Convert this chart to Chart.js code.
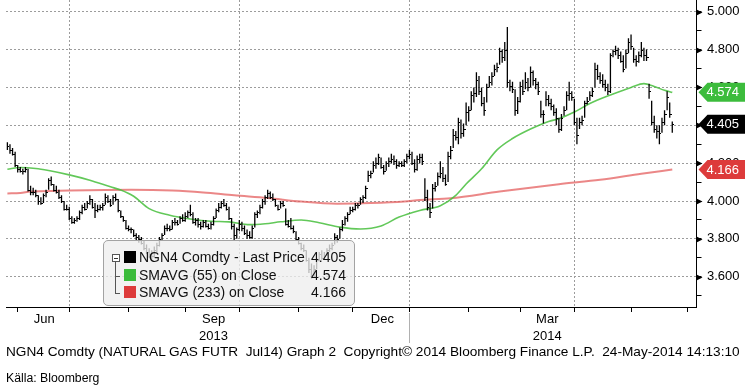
<!DOCTYPE html>
<html>
<head>
<meta charset="utf-8">
<script src="https://cdn.jsdelivr.net/npm/chart.js@4.4.1/dist/chart.umd.min.js"></script>
<style>
  html, body { margin: 0; padding: 0; background: #fff; }
  #wrap { position: relative; width: 748px; height: 392px; overflow: hidden;
          font-family: 'Liberation Sans', Arial, sans-serif; color: #000; }
  #plot { position: absolute; left: 0; top: 0; width: 748px; height: 392px; }
  #legend { position: absolute; left: 103px; top: 240px; width: 252px; height: 66px;
            box-sizing: border-box; border: 1px solid #a3a3a3; border-radius: 5px;
            background: rgba(238,238,238,0.78); font-size: 14px; color: #111; }
  #legend .row { position: absolute; left: 0; right: 0; height: 17px; line-height: 17px; }
  #legend .sw { position: absolute; left: 20px; top: 2px; width: 12px; height: 12px; }
  #legend .name { position: absolute; left: 35px; white-space: pre; }
  #legend .val { position: absolute; right: 8px; }
  #legend .tb { position: absolute; left: 8px; top: 13px; width: 6px; height: 6px;
                border: 1px solid #555; background: #fff; }
  #legend .tb:after { content: ''; position: absolute; left: 1px; top: 3px; width: 4px; height: 1px; background: #333; }
  #legend .vl { position: absolute; left: 11px; top: 21px; width: 1px; height: 31px; background: #555; }
  #legend .hl { position: absolute; left: 11px; width: 5px; height: 1px; background: #555; }
  .txt { position: absolute; left: 6px; white-space: pre; transform-origin: 0 0; }
</style>
</head>
<body>
<div id="wrap">
  <div id="plot"><canvas id="chart"></canvas></div>
  <div id="legend">
    <div class="tb"></div><div class="vl"></div>
    <div class="hl" style="top:35px"></div><div class="hl" style="top:52px"></div>
    <div class="row" style="top:8px"><span class="sw" style="background:#000"></span><span class="name">NGN4 Comdty - Last Price</span><span class="val" id="v0"></span></div>
    <div class="row" style="top:26px"><span class="sw" style="background:#3cbc3c"></span><span class="name">SMAVG (55) on Close</span><span class="val" id="v1"></span></div>
    <div class="row" style="top:43px"><span class="sw" style="background:#dd3b3b"></span><span class="name">SMAVG (233) on Close</span><span class="val" id="v2"></span></div>
  </div>
  <div class="txt" id="foot" style="top:344px;font-size:13px">NGN4 Comdty (NATURAL GAS FUTR  Jul14) Graph 2  Copyright© 2014 Bloomberg Finance L.P.  24-May-2014 14:13:10</div>
  <div class="txt" id="src" style="top:371px;font-size:12px">Källa: Bloomberg</div>
</div>
<script>
const FONT = "'Liberation Sans', Arial, sans-serif";

// x = trading day index, 0 = 3 Jun 2013; first bar is 28 May 2013
const FIRST_BAR = -4;

const high = [
  4.31,4.30,4.28,4.26,4.19,4.18,4.17,4.18,4.17,4.08,
  4.07,4.06,4.03,4.02,4.04,4.06,4.12,4.13,4.09,4.08,
  4.06,4.03,4.00,3.98,3.97,3.92,3.91,3.92,3.95,3.98,
  3.99,4.00,4.03,4.01,3.99,3.98,3.98,3.99,4.04,4.03,
  4.01,4.03,4.04,4.01,3.95,3.92,3.90,3.87,3.86,3.85,
  3.83,3.82,3.81,3.79,3.77,3.75,3.74,3.76,3.78,3.81,
  3.83,3.87,3.88,3.87,3.90,3.91,3.90,3.92,3.93,3.94,
  3.95,3.98,3.94,3.91,3.91,3.89,3.90,3.90,3.88,3.89,
  3.92,3.96,3.99,4.00,4.01,3.99,3.97,3.91,3.88,3.86,
  3.90,3.89,3.87,3.85,3.84,3.87,3.94,3.95,3.98,4.01,
  4.03,4.06,4.05,4.04,4.01,3.98,4.00,4.00,3.96,3.90,
  3.91,3.87,3.84,3.81,3.78,3.77,3.74,3.70,3.67,3.66,
  3.70,3.73,3.74,3.73,3.75,3.77,3.78,3.83,3.82,3.86,
  3.90,3.92,3.94,3.97,3.97,3.99,3.99,4.02,4.03,
  4.08,4.16,4.16,4.21,4.23,4.25,4.23,4.19,4.21,4.23,
  4.25,4.24,4.22,4.21,4.21,4.22,4.25,4.27,4.26,4.22,
  4.24,4.25,4.25,4.12,4.06,3.99,4.09,4.10,4.15,4.21,
  4.18,4.14,4.26,4.29,4.38,4.37,4.44,4.43,4.41,4.52,
  4.50,4.58,4.60,4.68,4.66,4.60,4.55,4.62,4.66,
  4.68,4.72,4.73,4.81,4.80,4.84,4.92,4.64,4.63,4.59,
  4.55,4.63,4.64,4.68,4.65,4.71,4.69,4.65,4.63,4.53,
  4.48,4.58,4.56,4.54,4.51,4.49,4.44,4.46,4.50,4.58,
  4.63,4.58,4.54,4.44,4.44,4.45,4.53,4.55,4.58,4.60,
  4.73,4.72,4.68,4.67,4.64,4.62,4.78,4.80,4.82,4.81,
  4.79,4.77,4.80,4.86,4.88,4.81,4.77,4.79,4.84,4.81,
  4.80,4.62,4.53,4.45,4.40,4.40,4.44,4.48,4.58,4.52,4.42
];
const low = [
  4.27,4.25,4.24,4.18,4.15,4.15,4.14,4.15,4.05,4.03,
  4.03,4.02,3.98,3.98,3.99,4.02,4.06,4.08,4.05,4.04,
  4.01,3.99,3.95,3.95,3.90,3.88,3.88,3.89,3.90,3.93,
  3.95,3.96,3.98,3.96,3.91,3.94,3.95,3.95,3.98,3.99,
  3.97,3.98,4.00,3.94,3.91,3.89,3.85,3.84,3.83,3.81,
  3.79,3.78,3.77,3.74,3.72,3.70,3.69,3.70,3.73,3.76,
  3.79,3.82,3.84,3.84,3.85,3.87,3.87,3.88,3.89,3.89,
  3.91,3.92,3.88,3.87,3.86,3.85,3.86,3.86,3.85,3.85,
  3.87,3.91,3.94,3.96,3.97,3.95,3.90,3.85,3.79,3.80,
  3.84,3.84,3.82,3.80,3.80,3.80,3.86,3.91,3.93,3.96,
  3.98,4.01,4.01,4.00,3.97,3.95,3.96,3.97,3.87,3.86,
  3.85,3.83,3.79,3.77,3.74,3.73,3.68,3.62,3.59,3.60,
  3.64,3.68,3.69,3.69,3.71,3.73,3.74,3.77,3.78,3.80,
  3.84,3.87,3.89,3.93,3.94,3.95,3.96,3.98,3.99,
  4.01,4.10,4.12,4.15,4.17,4.19,4.17,4.14,4.16,4.18,
  4.20,4.19,4.17,4.18,4.18,4.18,4.20,4.22,4.19,4.15,
  4.16,4.20,4.19,4.00,3.95,3.91,3.96,4.05,4.08,4.12,
  4.10,4.08,4.10,4.22,4.28,4.32,4.30,4.33,4.34,4.40,
  4.42,4.48,4.52,4.55,4.56,4.50,4.45,4.52,4.60,
  4.61,4.66,4.68,4.72,4.73,4.74,4.60,4.58,4.57,4.45,
  4.46,4.52,4.56,4.59,4.58,4.60,4.61,4.59,4.56,4.44,
  4.41,4.50,4.50,4.48,4.45,4.40,4.36,4.37,4.45,4.48,
  4.53,4.53,4.40,4.30,4.38,4.40,4.44,4.51,4.53,4.55,
  4.60,4.64,4.62,4.60,4.58,4.56,4.57,4.76,4.77,4.75,
  4.73,4.68,4.70,4.78,4.80,4.73,4.71,4.73,4.76,4.74,
  4.74,4.54,4.40,4.36,4.33,4.30,4.36,4.40,4.48,4.44,4.36
];
const close = [
  4.29,4.27,4.25,4.19,4.17,4.16,4.16,4.17,4.06,4.05,
  4.05,4.03,4.00,3.99,4.03,4.05,4.11,4.09,4.06,4.05,
  4.02,4.00,3.96,3.96,3.91,3.89,3.90,3.91,3.94,3.97,
  3.96,3.99,4.01,3.97,3.95,3.96,3.97,3.98,4.02,4.00,
  3.98,4.02,4.01,3.95,3.92,3.90,3.86,3.85,3.85,3.82,
  3.81,3.80,3.78,3.75,3.73,3.72,3.71,3.74,3.77,3.80,
  3.82,3.86,3.86,3.85,3.89,3.89,3.88,3.91,3.90,3.92,
  3.94,3.93,3.89,3.90,3.88,3.87,3.89,3.87,3.86,3.88,
  3.91,3.95,3.97,3.99,3.98,3.96,3.91,3.87,3.82,3.85,
  3.88,3.86,3.83,3.82,3.81,3.86,3.93,3.94,3.97,4.00,
  4.02,4.04,4.02,4.01,3.98,3.96,3.99,3.98,3.88,3.87,
  3.86,3.84,3.80,3.78,3.75,3.74,3.69,3.64,3.61,3.64,
  3.69,3.72,3.70,3.71,3.74,3.75,3.77,3.81,3.80,3.85,
  3.88,3.91,3.93,3.95,3.96,3.98,3.98,4.01,4.02,
  4.07,4.14,4.15,4.19,4.20,4.23,4.18,4.16,4.20,4.21,
  4.22,4.21,4.19,4.20,4.19,4.21,4.24,4.25,4.20,4.17,
  4.22,4.23,4.21,4.02,3.97,3.94,4.07,4.08,4.13,4.15,
  4.12,4.09,4.24,4.27,4.35,4.34,4.42,4.36,4.38,4.47,
  4.48,4.56,4.57,4.64,4.58,4.52,4.48,4.60,4.63,
  4.66,4.70,4.71,4.79,4.76,4.80,4.63,4.61,4.59,4.48,
  4.53,4.61,4.58,4.63,4.60,4.68,4.64,4.62,4.58,4.46,
  4.46,4.54,4.52,4.50,4.47,4.44,4.38,4.44,4.48,4.56,
  4.57,4.55,4.42,4.35,4.42,4.43,4.52,4.53,4.56,4.58,
  4.70,4.66,4.64,4.62,4.60,4.58,4.77,4.79,4.80,4.77,
  4.74,4.70,4.78,4.84,4.82,4.75,4.74,4.77,4.80,4.77,
  4.76,4.58,4.42,4.38,4.37,4.36,4.42,4.46,4.55,4.46,4.405
];

// moving averages: [day index, value]
const ma55 = [
  [-4,4.168],[1,4.177],[7,4.172],[12,4.161],[20,4.138],[28,4.11],[36,4.075],
  [40,4.058],[45,4.025],[51,3.96],[59,3.925],[67,3.905],[75,3.893],[82,3.89],
  [90,3.875],[96,3.88],[102,3.89],[110,3.90],[117,3.885],[125,3.862],[133,3.852],
  [141,3.868],[148,3.915],[156,3.95],[164,3.975],[170,4.03],[174,4.09],[180,4.17],
  [186,4.27],[192,4.33],[199,4.38],[206,4.42],[210,4.435],[216,4.47],[222,4.515],
  [230,4.56],[238,4.60],[243,4.62],[247,4.605],[251,4.585],[254,4.574]
];
const ma233 = [
  [-4,4.04],[1,4.042],[5,4.05],[16,4.054],[44,4.059],[60,4.055],[72,4.045],
  [84,4.03],[97,4.016],[110,3.997],[124,3.986],[137,3.989],[150,3.997],[156,4.005],
  [168,4.015],[187,4.05],[210,4.089],[226,4.112],[242,4.144],[254,4.166]
];

// axis layout
const X_MIN = -4.54, X_MAX = 263.4;
const Y_MIN = 3.440, Y_MAX = 5.062;
const yTicks = [3.5,3.6,3.7,3.8,3.9,4.0,4.1,4.2,4.3,4.4,4.5,4.6,4.7,4.8,4.9,5.0];
const monthStarts = [0,20,43,65,86,109,130,152,175,195,216,238,260];
const quarterStarts = [20,86,152,216];
const YEAR_SPLIT = 152;
const monthLabelPos = [10.3,76,141.5,205.5];
const monthLabelText = [['Jun',''],['Sep','2013'],['Dec',''],['Mar','2014']];

const isMajor = v => Math.round(v * 10) % 2 === 0;
const lastClose = close[close.length - 1];
const last55 = ma55[ma55.length - 1][1];
const last233 = ma233[ma233.length - 1][1];

document.getElementById('v0').textContent = lastClose.toFixed(3);
document.getElementById('v1').textContent = last55.toFixed(3);
document.getElementById('v2').textContent = last233.toFixed(3);

// close ticks to the right of each high-low bar
const closeTicks = {
  id: 'closeTicks',
  afterDatasetsDraw(chart) {
    const {ctx, scales: {x, y}} = chart;
    ctx.save();
    ctx.fillStyle = '#000';
    close.forEach((c, k) => {
      const px = Math.round(x.getPixelForValue(FIRST_BAR + k));
      ctx.fillRect(px, Math.round(y.getPixelForValue(c)), 2, 1);
    });
    ctx.restore();
  }
};

// tick pointers, year divider and last-value tags
const decorations = {
  id: 'decorations',
  afterDraw(chart) {
    const {ctx, scales: {x, y}} = chart;
    ctx.save();
    ctx.fillStyle = '#000';
    yTicks.filter(isMajor).forEach(v => {
      const py = Math.round(y.getPixelForValue(v)) + 0.5;
      ctx.beginPath();
      ctx.moveTo(y.left, py - 3);
      ctx.lineTo(y.left + 6, py);
      ctx.lineTo(y.left, py + 3);
      ctx.closePath();
      ctx.fill();
    });

    const sx = Math.round(x.getPixelForValue(YEAR_SPLIT)) + 0.5;
    ctx.strokeStyle = '#b0b0b0';
    ctx.lineWidth = 1;
    ctx.beginPath();
    ctx.moveTo(sx, x.bottom);
    ctx.lineTo(sx, x.bottom + 30);
    ctx.stroke();

    const tags = [
      { v: last233, fill: '#dd3b3b' },
      { v: lastClose, fill: '#000' },
      { v: last55, fill: '#3cbc3c' }
    ];
    ctx.font = '13px ' + FONT;
    ctx.textBaseline = 'middle';
    ctx.textAlign = 'left';
    tags.forEach(t => {
      const py = y.getPixelForValue(t.v);
      const x0 = y.left + 2, x1 = x0 + 9, x2 = 745, h = 9.5;
      ctx.beginPath();
      ctx.moveTo(x0, py);
      ctx.lineTo(x1, py - h);
      ctx.lineTo(x2, py - h);
      ctx.lineTo(x2, py + h);
      ctx.lineTo(x1, py + h);
      ctx.closePath();
      ctx.fillStyle = t.fill;
      ctx.fill();
      ctx.fillStyle = '#fff';
      ctx.fillText(t.v.toFixed(3), x0 + 8, py + 0.5);
    });
    ctx.restore();
  }
};

new Chart(document.getElementById('chart'), {
  type: 'line',
  data: {
    datasets: [
      {
        type: 'bar',
        data: high.map((h, k) => ({ x: FIRST_BAR + k, y: [low[k], h] })),
        backgroundColor: '#000',
        barThickness: 1.3,
        borderWidth: 0,
        inflateAmount: 0,
        order: 0
      },
      {
        type: 'line',
        data: ma55.map(p => ({ x: p[0], y: p[1] })),
        borderColor: 'rgba(70,190,60,0.85)',
        borderWidth: 1.6,
        pointRadius: 0,
        cubicInterpolationMode: 'monotone',
        order: 1
      },
      {
        type: 'line',
        data: ma233.map(p => ({ x: p[0], y: p[1] })),
        borderColor: 'rgba(228,95,95,0.75)',
        borderWidth: 2,
        pointRadius: 0,
        cubicInterpolationMode: 'monotone',
        order: 2
      }
    ]
  },
  options: {
    responsive: true,
    maintainAspectRatio: false,
    devicePixelRatio: 1,
    animation: false,
    events: [],
    layout: { padding: { left: 6, right: 0, top: 0, bottom: 0 } },
    plugins: { legend: { display: false }, tooltip: { enabled: false } },
    scales: {
      x: {
        type: 'linear', position: 'bottom', weight: 0, offset: false,
        min: X_MIN, max: X_MAX,
        afterBuildTicks: s => { s.ticks = monthStarts.map(v => ({ value: v })); },
        ticks: { display: false },
        grid: {
          offset: false,
          color: c => quarterStarts.includes(c.tick && c.tick.value) ? '#9c9c9c' : 'rgba(0,0,0,0)',
          tickColor: '#000', tickLength: 5, lineWidth: 1
        },
        border: { color: '#000', width: 1, dash: [2, 2] },
        afterFit: s => { s.height = 6; s.paddingLeft = 0; s.paddingRight = 0; }
      },
      xLab: {
        type: 'linear', position: 'bottom', weight: 1, offset: false,
        min: X_MIN, max: X_MAX,
        afterBuildTicks: s => { s.ticks = monthLabelPos.map(v => ({ value: v })); },
        ticks: {
          autoSkip: false, maxRotation: 0, padding: -10, color: '#000',
          font: { family: FONT, size: 13, lineHeight: 1.3 },
          callback: (v, i) => monthLabelText[i]
        },
        grid: { display: false },
        border: { display: false },
        afterFit: s => { s.height = 79; s.paddingLeft = 0; s.paddingRight = 0; }
      },
      y: {
        position: 'right',
        min: Y_MIN, max: Y_MAX,
        afterBuildTicks: s => { s.ticks = yTicks.map(v => ({ value: v })); },
        ticks: {
          padding: 5.5, color: '#000',
          font: { family: FONT, size: 13 },
          callback: v => isMajor(v) ? v.toFixed(3) : ''
        },
        grid: {
          color: c => isMajor(c.tick ? c.tick.value : 0) ? '#9c9c9c' : 'rgba(0,0,0,0)',
          tickColor: '#000', tickLength: 5, lineWidth: 1
        },
        border: { color: '#000', width: 1, dash: [2, 2] },
        afterFit: s => { s.width = 51.5; s.paddingTop = 0; s.paddingBottom = 0; }
      }
    }
  },
  plugins: [closeTicks, decorations]
});

// fit the footer lines to the widths in the original
[['foot', 734], ['src', 93]].forEach(([id, w]) => {
  const el = document.getElementById(id);
  el.style.transform = 'scaleX(' + (w / el.offsetWidth) + ')';
});
</script>
</body>
</html>
